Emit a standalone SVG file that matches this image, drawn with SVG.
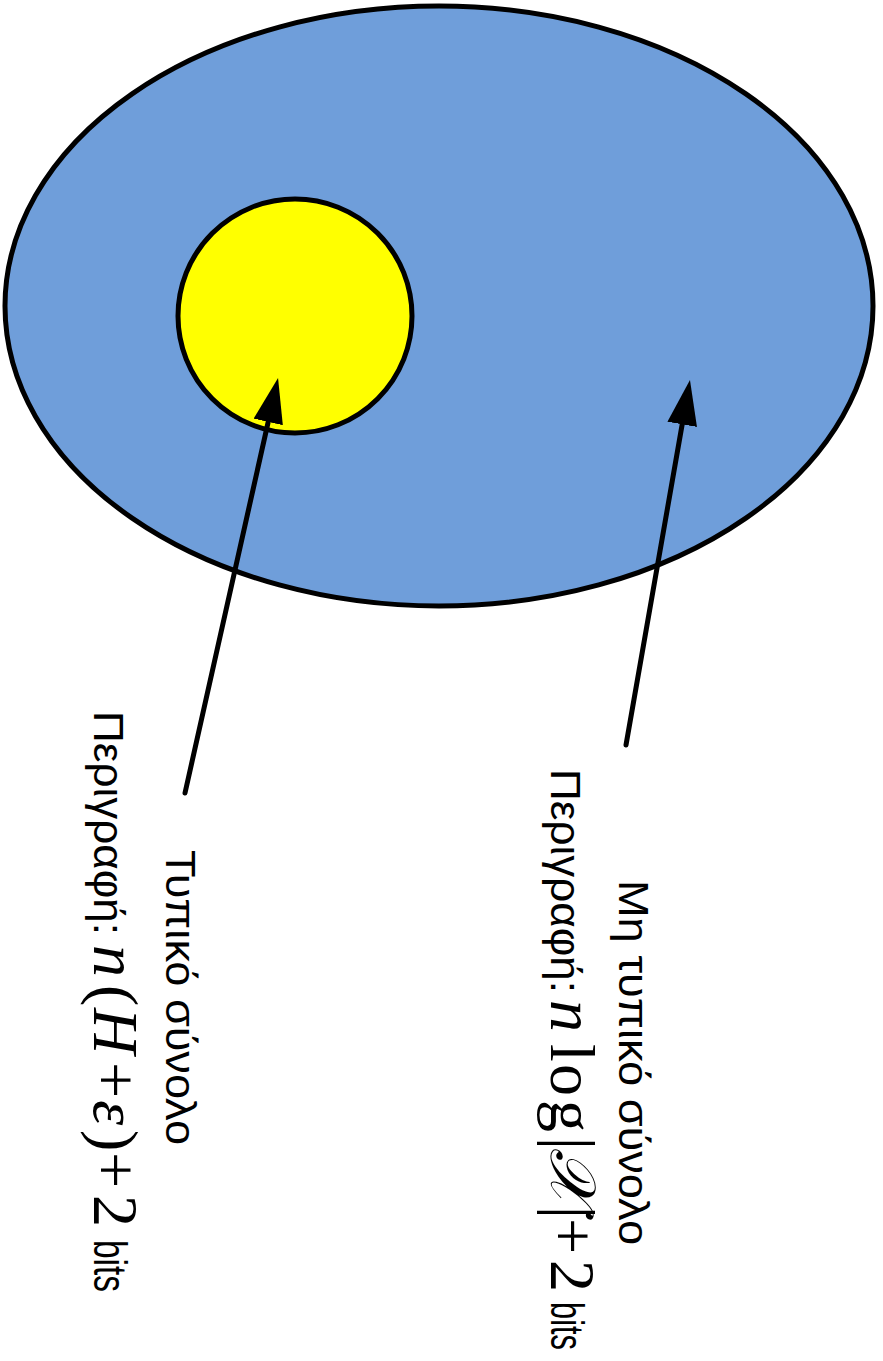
<svg xmlns="http://www.w3.org/2000/svg" width="883" height="1361" viewBox="0 0 883 1361">
<style>
.shape{stroke:#000;stroke-width:5}
.conn{stroke:#000;stroke-width:5;stroke-linecap:round;fill:none}
.sans{font-family:"Liberation Sans",Arial,sans-serif;font-size:43px;fill:#000}
.bits{font-family:"Liberation Sans",Arial,sans-serif;font-size:46px;fill:#000}
.math{font-family:"Liberation Serif","DejaVu Serif",serif;font-size:64px;fill:#000}
.it{font-style:italic}
</style>
<defs>
<marker id="ah" viewBox="0 -15 45 30" refX="0" refY="0" markerWidth="45" markerHeight="30" markerUnits="userSpaceOnUse" orient="auto">
<path d="M0,-15 L45,0 L0,15 z" fill="#000"/>
</marker>
</defs>
<rect width="883" height="1361" fill="#fff"/>
<g id="outer"><ellipse class="shape" cx="439" cy="306" rx="434" ry="300" fill="#6F9EDA"/></g>
<g id="inner"><circle class="shape" cx="295" cy="316" r="117" fill="#FFFF00"/></g>
<g id="connectors">
<line class="conn" x1="185" y1="793" x2="268.2" y2="421.9" marker-end="url(#ah)"/>
<line class="conn" x1="626" y1="745" x2="682.2" y2="424.3" marker-end="url(#ah)"/>
</g>
<g id="label-typical">
<g transform="translate(166,0) rotate(90)">
<text class="sans" x="850" y="0" textLength="295" lengthAdjust="spacingAndGlyphs">Τυπικό σύνολο</text>
</g>
<g transform="translate(94,0) rotate(90)">
<text class="sans" x="711" y="0" textLength="224" lengthAdjust="spacingAndGlyphs">Περιγραφή:</text>
<text y="0"><tspan class="math it" x="945">n</tspan><tspan class="math" x="985">(</tspan><tspan class="math it" x="1008">H</tspan><tspan class="math" x="1062">+</tspan><tspan class="math it" x="1100">ε</tspan><tspan class="math" x="1130">)</tspan><tspan class="math" x="1152">+</tspan><tspan class="math" x="1195">2</tspan></text>
<text class="bits" x="1240" y="0" textLength="52" lengthAdjust="spacingAndGlyphs">bits</text>
</g>
</g>
<g id="label-atypical">
<g transform="translate(619,0) rotate(90)">
<text class="sans" x="880" y="0" textLength="365" lengthAdjust="spacingAndGlyphs">Μη τυπικό σύνολο</text>
</g>
<g transform="translate(551,0) rotate(90)">
<text class="sans" x="769" y="0" textLength="224" lengthAdjust="spacingAndGlyphs">Περιγραφή:</text>
<text y="0"><tspan class="math it" x="1000">n</tspan><tspan class="math" x="1044 1064 1100">log</tspan><tspan class="math" x="1137">|</tspan><tspan class="math it" x="1148">𝒳</tspan><tspan class="math" x="1206">|</tspan><tspan class="math" x="1218">+</tspan><tspan class="math" x="1260">2</tspan></text>
<text class="bits" x="1302" y="0" textLength="48" lengthAdjust="spacingAndGlyphs">bits</text>
</g>
</g>
</svg>
